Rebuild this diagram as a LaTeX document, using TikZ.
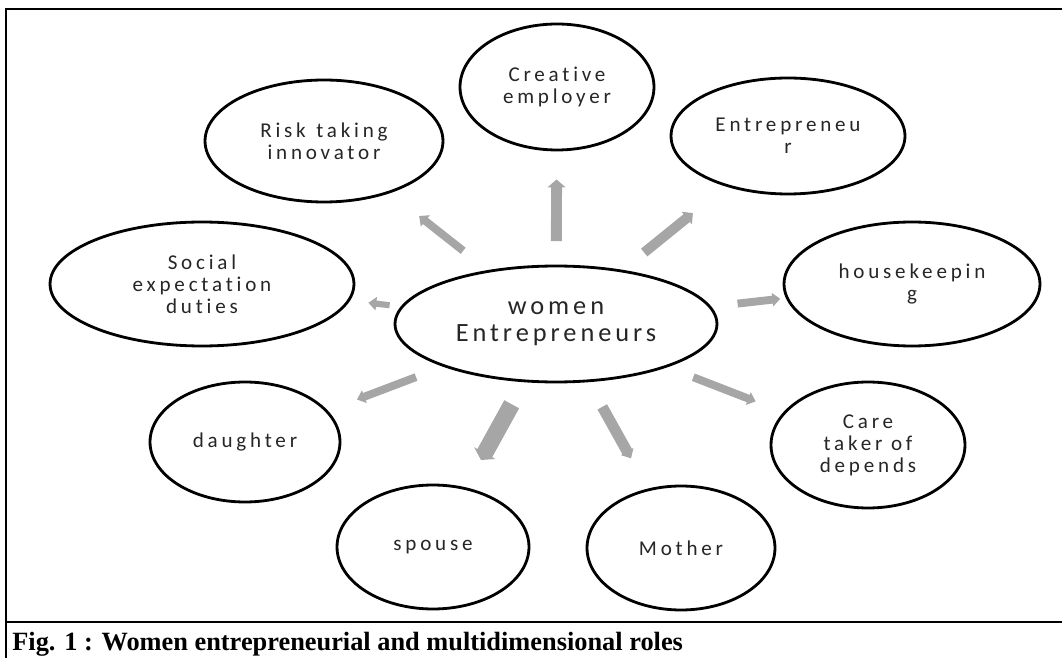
\documentclass[tikz,border=0pt]{standalone}
\usepackage{fontspec}
\usetikzlibrary{calc, arrows.meta, shapes.geometric}
\newfontfamily\rolefont[LetterSpace=18, Ligatures=NoCommon]{Carlito}
\newfontfamily\hubfont[LetterSpace=15, Ligatures=NoCommon]{Carlito}
\newfontfamily\capfont{Liberation Serif}
\definecolor{arrowgray}{HTML}{A6A6A6}
\tikzset{
  role/.style={ellipse, draw, line width=1.6pt, fill=white, inner sep=0pt, align=center,
    text=black!85, font=\rolefont\fontsize{12}{12.5}\selectfont},
  roleArrow/.style 2 args={draw=arrowgray, line width=#1, -{Triangle[length=4.5pt, width=#2]}},
}

\begin{document}
\begin{tikzpicture}[x=0.02cm, y=-0.02cm]
    \useasboundingbox (0,0) rectangle (1062,658);
    % frame and caption band
    \draw[line width=1.5pt] (6,658) -- (6,9) -- (1062,9);
    \draw[line width=1.5pt] (6,622) -- (1062,622);
    \node[anchor=base west, inner sep=0pt, font=\capfont\bfseries\fontsize{15}{17}\selectfont] (caption) at (12,650)
        {Fig. 1 : Women entrepreneurial and multidimensional roles};

    \node[role, minimum width=6.44cm, minimum height=2.32cm, font=\hubfont\fontsize{15}{15.5}\selectfont] (hub) at (556,324) {women\\Entrepreneurs};
    \node[role, minimum width=4.76cm, minimum height=2.44cm] (risk) at (324,141) {Risk\enspace taking\\innovator};
    \node[role, minimum width=3.88cm, minimum height=2.52cm] (creative) at (557,87) {Creative\\employer};
    \node[role, minimum width=4.68cm, minimum height=2.32cm] (entre) at (788,136) {Entrepreneu\\r};
    \node[role, minimum width=5.12cm, minimum height=2.48cm] (house) at (912,284) {housekeepin\\g};
    \node[role, minimum width=3.88cm, minimum height=2.52cm] (care) at (868,445) {Care\\taker of\\depends};
    \node[role, minimum width=3.76cm, minimum height=2.48cm] (mother) at (681,548) {Mother};
    \node[role, minimum width=3.84cm, minimum height=2.48cm] (spouse) at (433,547) {spouse};
    \node[role, minimum width=3.80cm, minimum height=2.40cm] (daughter) at (245,442) {daughter};
    \node[role, minimum width=6.08cm, minimum height=2.48cm] (social) at (202,284) {Social\\expectation\\duties};

    \draw[roleArrow={4.5pt}{8pt}] ($(hub)!.40!(risk)$) -- ($(hub)!.59!(risk)$);
    \draw[roleArrow={6.2pt}{10pt}] ($(hub)!.35!(creative)$) -- ($(hub)!.61!(creative)$);
    \draw[roleArrow={5.7pt}{9pt}] ($(hub)!.38!(entre)$) -- ($(hub)!.59!(entre)$);
    \draw[roleArrow={4.5pt}{7.5pt}] ($(hub)!.51!(house)$) -- ($(hub)!.63!(house)$);
    \draw[roleArrow={4.5pt}{7.5pt}] ($(hub)!.44!(care)$) -- ($(hub)!.64!(care)$);
    \draw[roleArrow={6.2pt}{8pt}] ($(hub)!.37!(mother)$) -- ($(hub)!.60!(mother)$);
    \draw[roleArrow={9.6pt}{13.6pt}] ($(hub)!.36!(spouse)$) -- ($(hub)!.61!(spouse)$);
    \draw[roleArrow={4.5pt}{7.5pt}] ($(hub)!.45!(daughter)$) -- ($(hub)!.64!(daughter)$);
    \draw[roleArrow={3.5pt}{7.5pt}] ($(hub)!.47!(social)$) -- ($(hub)!.53!(social)$);
\end{tikzpicture}
\end{document}
